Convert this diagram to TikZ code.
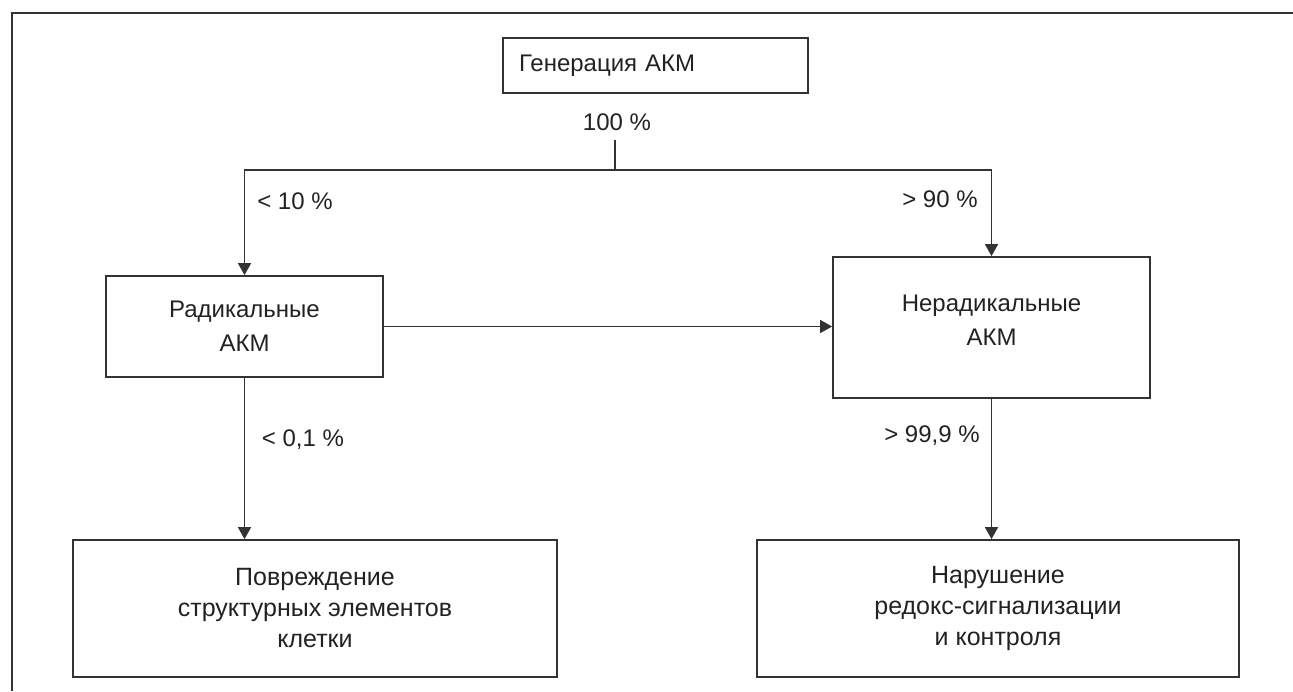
\documentclass[tikz,border=0pt]{standalone}
\usepackage{fontspec}
\setmainfont{Liberation Sans}
\usetikzlibrary{arrows.meta}
\definecolor{ln}{HTML}{333333}
\definecolor{tx}{HTML}{222222}
\begin{document}
\begin{tikzpicture}[x=1pt,y=-1pt,
  every node/.style={font=\fontsize{24}{34}\selectfont, text=tx},
  boxnode/.style={draw=ln, line width=1.8pt, inner sep=0pt, align=center},
  conn/.style={draw=ln, line width=1.8pt},
  arr/.style={conn, -{Triangle[width=13pt,length=12pt]}},
  pct/.style={inner sep=0pt}]
\useasboundingbox (0,0) rectangle (1293,691);
\draw[ln, line width=2.4pt] (12,691) -- (12,13) -- (1293,13);

\node[boxnode, minimum width=305pt, minimum height=55pt, text width=273pt, inner xsep=16pt, align=left] (gen) at (655.5,65.5) {Генерация АКМ};
\node[boxnode, minimum width=277pt, minimum height=101pt] (rad) at (244.5,326.5) {Радикальные\\АКМ};
\node[boxnode, minimum width=317pt, minimum height=141pt] (nrad) at (991.5,327.5) {\raisebox{6pt}[\height][\depth]{\begin{tabular}{@{}c@{}}Нерадикальные\\АКМ\end{tabular}}};
\node[boxnode, minimum width=484pt, minimum height=137pt, font=\fontsize{25}{31}\selectfont] (dmg) at (315,608.5) {Повреждение\\структурных элементов\\клетки};
\node[boxnode, minimum width=482pt, minimum height=137pt, font=\fontsize{25}{31}\selectfont] (red) at (998,608.5) {Нарушение\\редокс-сигнализации\\и контроля};

\coordinate (s1) at (615,140);
\coordinate (s2) at (615,170);
\draw[conn] (s1) -- (s2);
\draw[arr] (s2) -| (rad.north);
\draw[arr] (s2) -| (nrad.north);
\draw[arr] (rad.east) -- (rad.east -| nrad.west);
\draw[arr] (rad.south) -- (rad.south |- dmg.north);
\draw[arr] (nrad.south) -- (nrad.south |- red.north);

\node[pct] (p100) at (617,122) {100 \%};
\node[pct] (p10) at (295,201) {< 10 \%};
\node[pct] (p90) at (940,199) {> 90 \%};
\node[pct] (p01) at (303,440) {< 0,1 \%};
\node[pct] (p999) at (932,436) {> 99,9 \%};
\end{tikzpicture}
\end{document}
